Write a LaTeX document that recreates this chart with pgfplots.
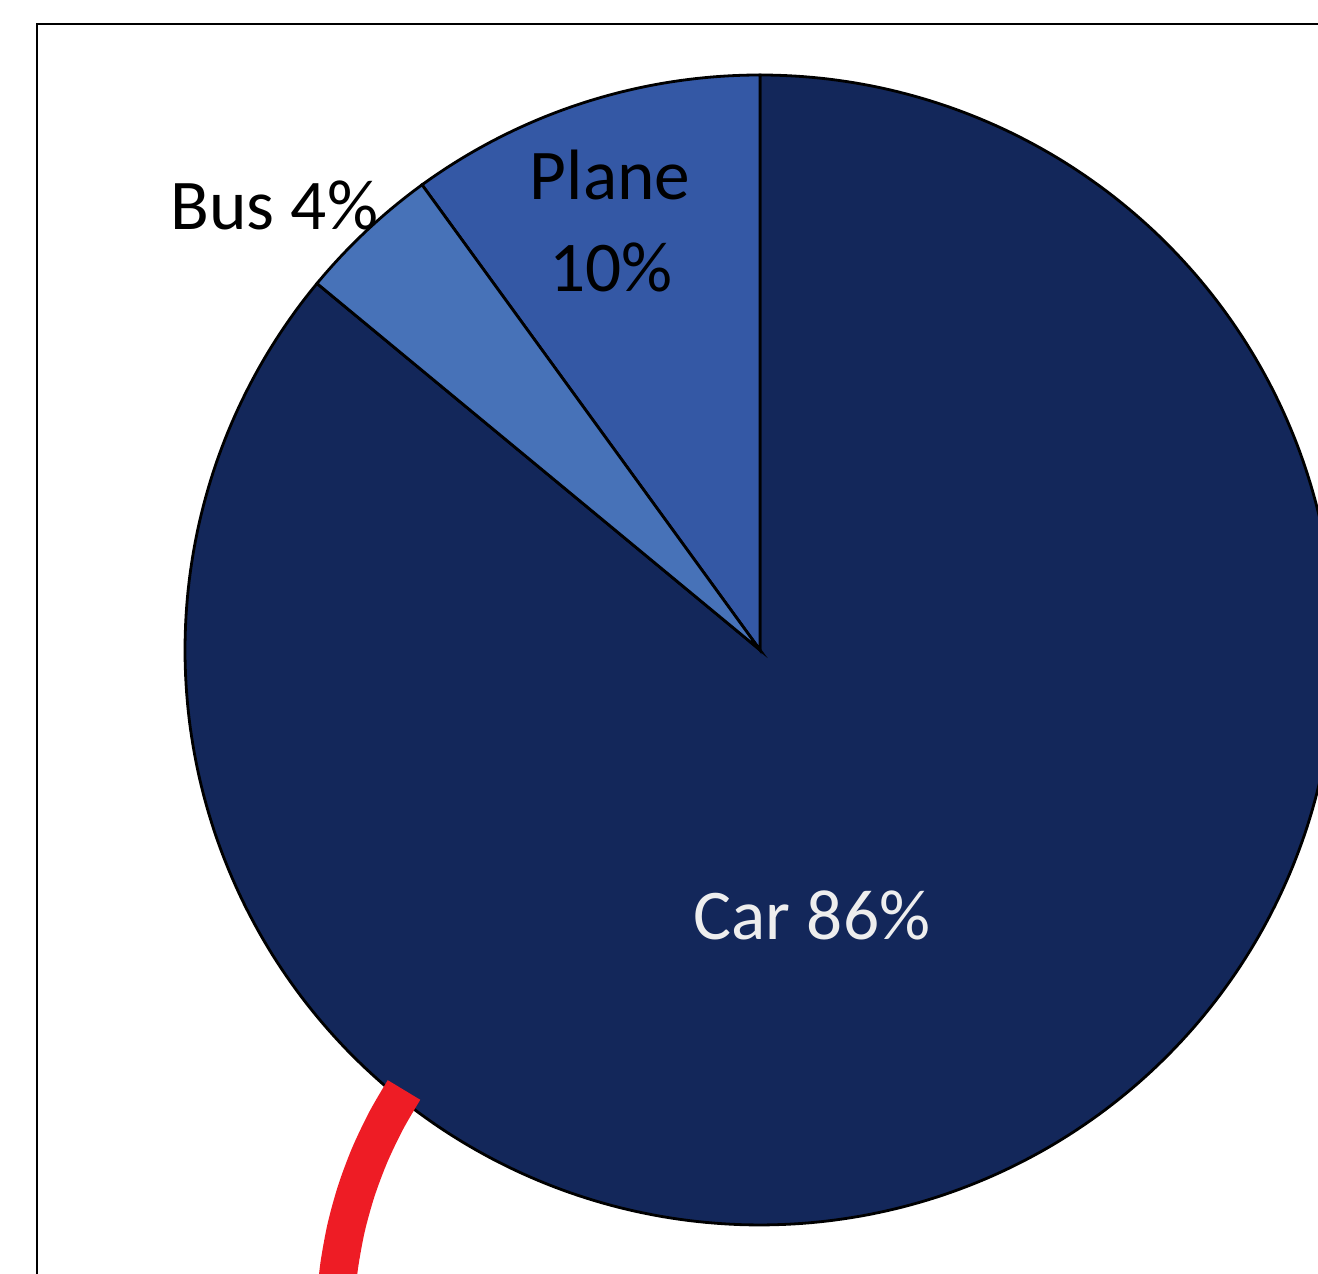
\documentclass[border=0pt]{standalone}
\usepackage{pgfplots}
\pgfplotsset{compat=1.18}
\usepackage{fontspec}
\setmainfont{Carlito}
\definecolor{carc}{HTML}{13275A}
\definecolor{planec}{HTML}{3458A5}
\definecolor{busc}{HTML}{4772B8}
\definecolor{carlab}{HTML}{EEEEEE}
\definecolor{annot}{HTML}{EE1C25}
\begin{document}
\begin{tikzpicture}
\begin{axis}[
  width=131.8mm, height=127.4mm, scale only axis,
  xmin=0, xmax=1318, ymin=0, ymax=1274,
  hide axis, clip=true,
]
% shares (%): Car 86, Plane 10, Bus 4 ; pie starts at 90 deg, clockwise
\addplot[fill=carc, draw=black, line width=0.28mm, domain={90-3.6*86}:90, samples=360, variable=\t]
  ({760+575*cos(\t)},{624+575*sin(\t)}) -- (axis cs:760,624) -- cycle;
\addplot[fill=planec, draw=black, line width=0.28mm, domain=90:{90+3.6*10}, samples=60, variable=\t]
  ({760+575*cos(\t)},{624+575*sin(\t)}) -- (axis cs:760,624) -- cycle;
\addplot[fill=busc, draw=black, line width=0.28mm, domain={90+3.6*10}:{90+3.6*14}, samples=40, variable=\t]
  ({760+575*cos(\t)},{624+575*sin(\t)}) -- (axis cs:760,624) -- cycle;
% annotation stroke
\addplot[annot, line width=3.8mm, smooth, line cap=butt] coordinates {
  (404,184) (386.3,153.6) (369.8,119.1) (356.4,83.3) (346.2,46.5) (339.3,9.0) (336.1,-21.4)};
% frame
\draw[black, line width=0.2mm] (axis cs:37,-20) -- (axis cs:37,1250) -- (axis cs:1340,1250);
% labels
\node[anchor=base west, font=\fontsize{20.3}{26}\selectfont, text=black, inner sep=0pt] at (axis cs:170,1044) {Bus 4\%};
\node[anchor=base, font=\fontsize{20.3}{26}\selectfont, text=black, inner sep=0pt] at (axis cs:610,1074) {Plane};
\node[anchor=base, font=\fontsize{20.3}{26}\selectfont, text=black, inner sep=0pt] at (axis cs:611,982) {10\%};
\node[anchor=base, font=\fontsize{20.3}{26}\selectfont, text=carlab, inner sep=0pt] at (axis cs:812,334) {Car 86\%};
\end{axis}
\pgfresetboundingbox
\path (current axis.south west) rectangle (current axis.north east);
\end{tikzpicture}
\end{document}
